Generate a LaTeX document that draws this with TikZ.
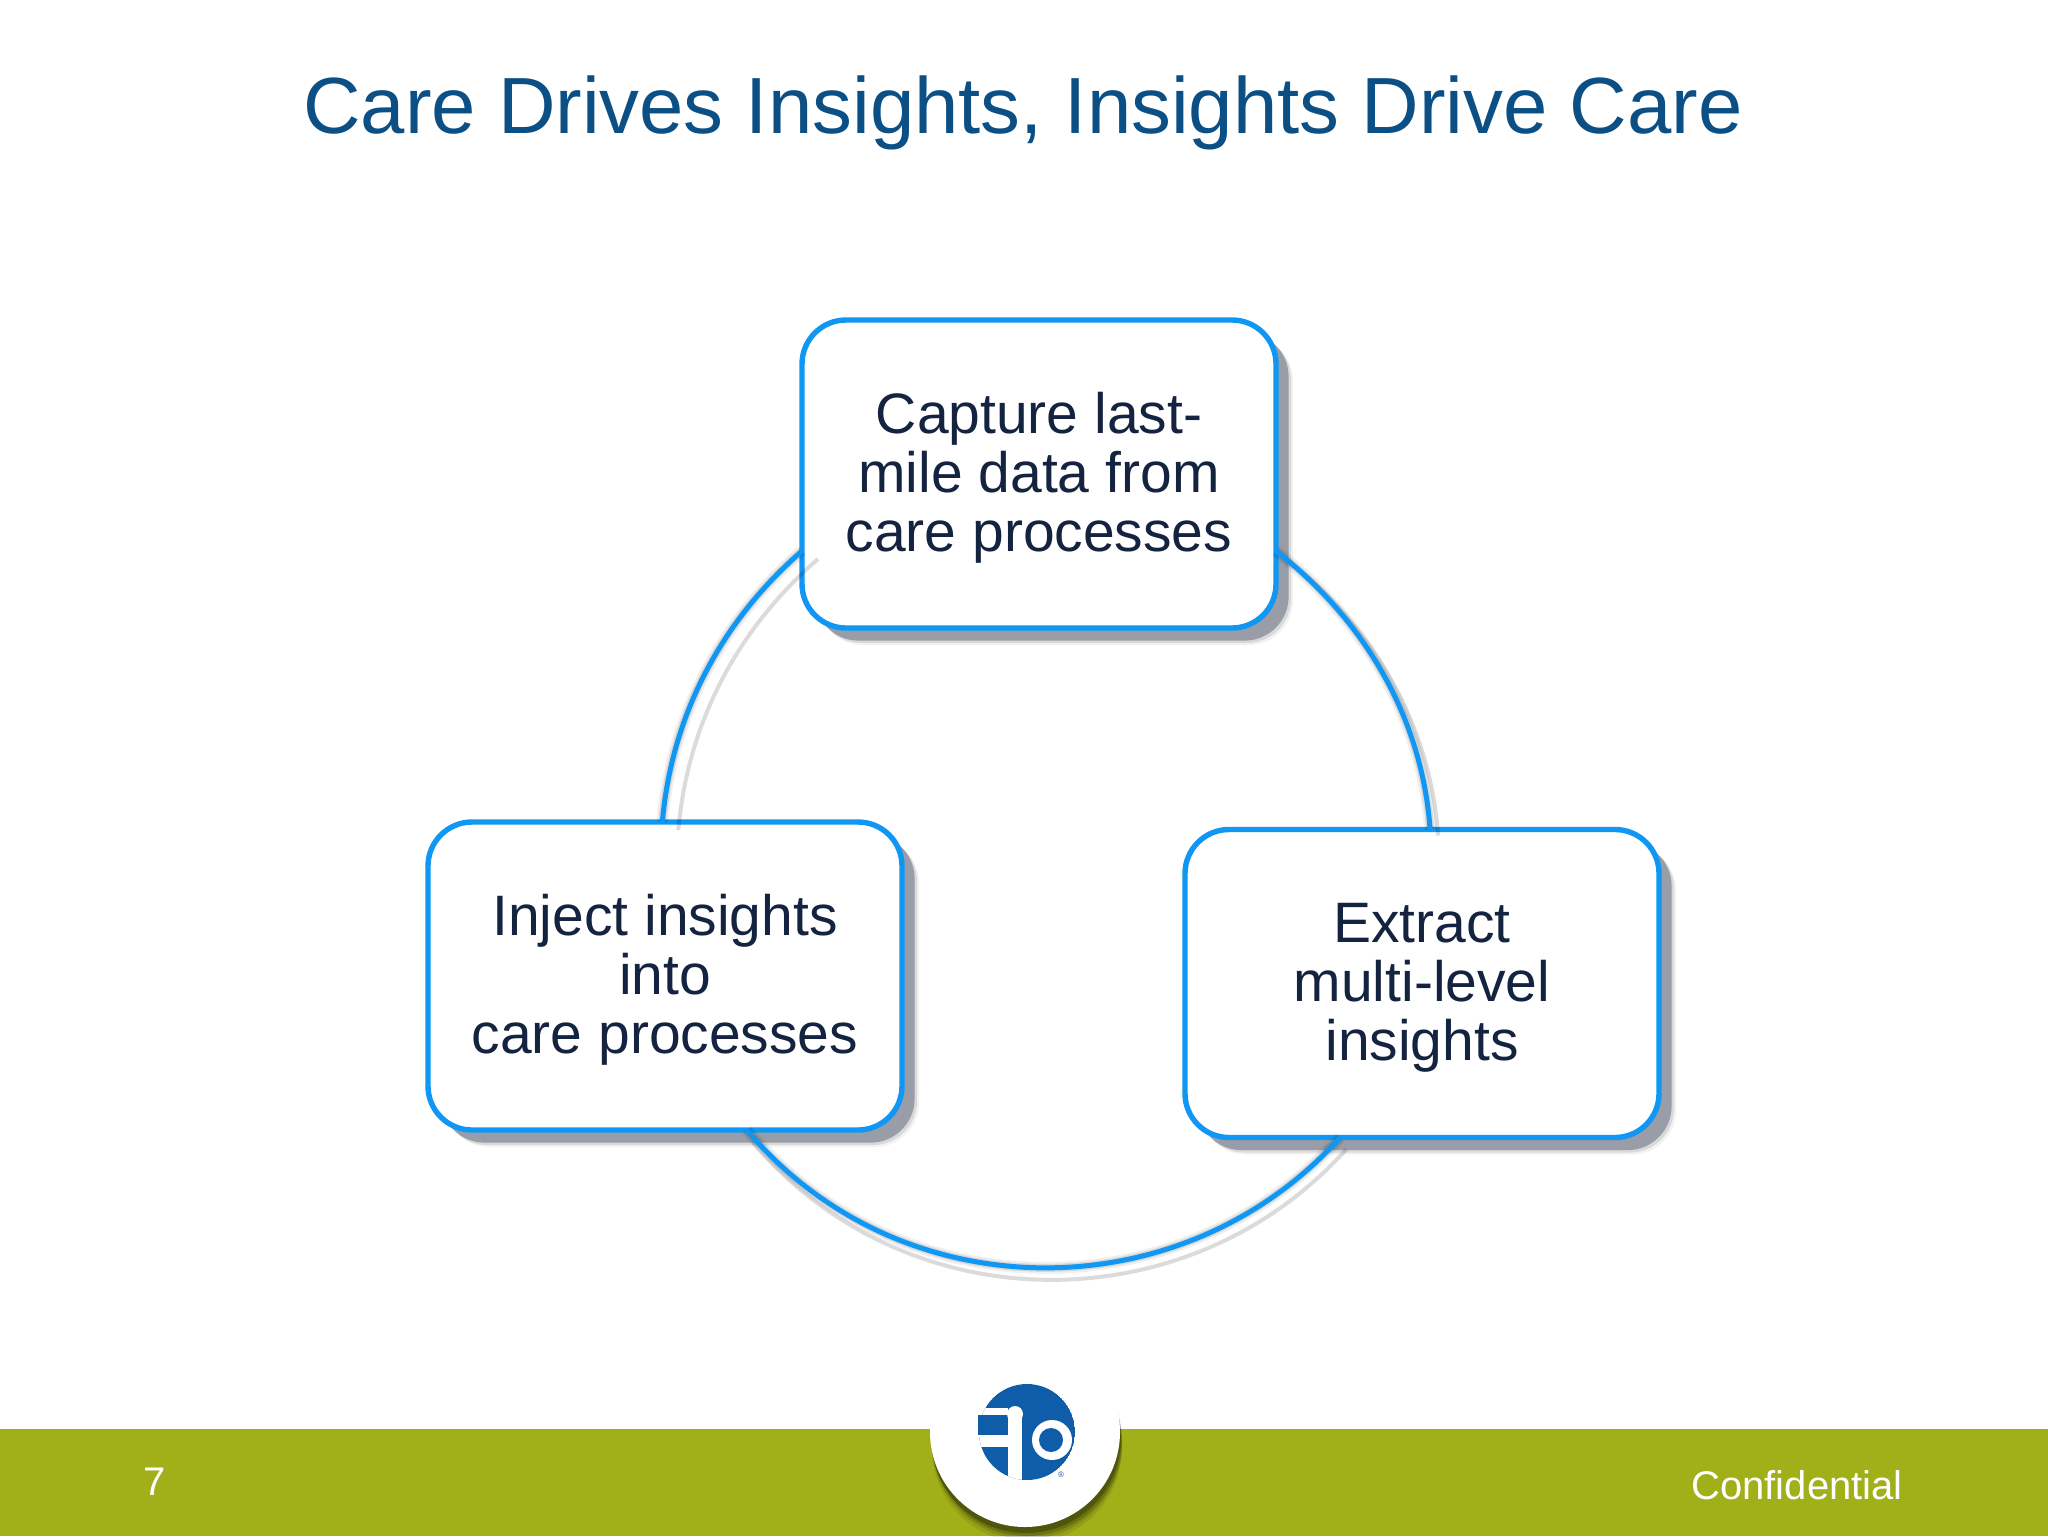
\documentclass[tikz,border=0pt]{standalone}
\usepackage{fontspec}
\setmainfont{Liberation Sans}
\usetikzlibrary{shadows}
\definecolor{titleblue}{HTML}{0B4F85}
\definecolor{boxblue}{HTML}{1097F4}
\definecolor{bodynavy}{HTML}{14233F}
\definecolor{bandgreen}{HTML}{A1AF19}
\definecolor{logoblue}{HTML}{0F5CA8}
\tikzset{
	softshadow/.style={
		general shadow={shadow xshift=8.5pt,shadow yshift=-8.5pt,fill=black,opacity=.05},
		general shadow={shadow xshift=7.5pt,shadow yshift=-7.5pt,fill=black,opacity=.1},
		general shadow={shadow xshift=6.3pt,shadow yshift=-6.3pt,fill=bodynavy,opacity=.33}},
	discshadow/.style={
		general shadow={shadow xshift=1pt,shadow yshift=-8pt,fill=black,opacity=.08},
		general shadow={shadow xshift=1pt,shadow yshift=-6pt,fill=black,opacity=.12},
		general shadow={shadow xshift=1pt,shadow yshift=-4.5pt,fill=black,opacity=.18},
		general shadow={shadow xshift=.5pt,shadow yshift=-3pt,fill=black,opacity=.25}},
	carebox/.style={draw=boxblue,line width=2.7pt,fill=white,rounded corners=22pt,minimum width=237pt,minimum height=154pt,outer sep=0pt,align=center,text=bodynavy,font=\fontsize{28.5}{29.5}\selectfont,text height=83.3pt,softshadow},
	cyclearc/.style={draw=boxblue,line width=2.5pt},
	arcshadow/.style 2 args={draw=black,line width=2pt,draw opacity=.14,transform canvas={xshift=#1,yshift=#2},
		preaction={draw,line width=6pt,draw opacity=.06},
		preaction={draw,line width=4pt,draw opacity=.1}},
	footertext/.style={text=white,font=\fontsize{20}{24}\selectfont,inner sep=0pt}
}
\begin{document}
\begin{tikzpicture}[x=0.5pt,y=-0.5pt]
	\useasboundingbox (0,0) rectangle (2048,1536);
	\fill[bandgreen] (0,1429) rectangle (2048,1536);
	\node[text=titleblue,font=\fontsize{39.85}{48}\selectfont,inner sep=0pt] (title) at (1023,113) {Care Drives Insights, Insights Drive Care};
	\node[carebox] (capture) at (1039,474) {Capture last-\\mile data from\\care processes};
	\node[carebox] (extract) at (1422,983.5) {Extract\\multi-level\\insights};
	\node[carebox] (inject) at (665,976) {Inject insights\\into\\care processes};
	\draw[arcshadow={4pt}{-3pt}] (capture.-18) to[out=-38,in=94,looseness=.9] (extract.87);
	\draw[arcshadow={3pt}{-6pt}] (extract.242) to[out=228,in=-50,looseness=1.02] (inject.-62);
	\draw[arcshadow={8pt}{-4pt}] (inject.91) to[out=85,in=221,looseness=.9] (capture.198);
	\draw[cyclearc] (capture.-18) to[out=-38,in=94,looseness=.9] (extract.87);
	\draw[cyclearc] (extract.242) to[out=228,in=-50,looseness=1.02] (inject.-62);
	\draw[cyclearc] (inject.91) to[out=85,in=221,looseness=.9] (capture.198);
	\node[footertext] (pagenum) at (155,1482) {7};
	\node[footertext] (confidential) at (1797,1485) {Confidential};
	\node[circle,fill=white,minimum size=95pt,inner sep=0pt,discshadow] (logodisc) at (1025,1432) {};
	\begin{scope}
		\clip (1027,1432) circle (48);
		\fill[logoblue] (1027,1432) circle (48);
		\fill[white] (970,1408) rectangle (1008,1415);
		\fill[white] (970,1435) rectangle (1008,1447);
		\fill[white] (1008,1417) rectangle (1022,1490);
	\end{scope}
	\fill[logoblue] (978,1415) rectangle (1000,1435);
	\fill[white] (1015,1414) circle (8);
	\fill[white] (1052,1440) circle (20);
	\fill[logoblue] (1051,1440) circle (12);
	\node[text=logoblue,font=\fontsize{4}{4}\selectfont,inner sep=0pt] (logomark) at (1061,1475) {®};
\end{tikzpicture}
\end{document}
